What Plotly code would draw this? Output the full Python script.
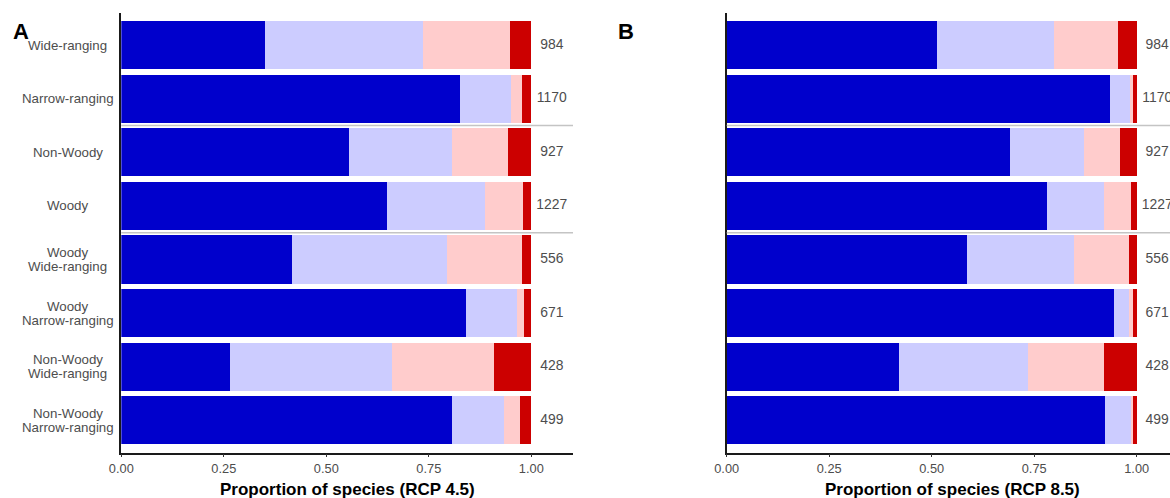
import plotly.graph_objects as go

categories = ["Wide-ranging", "Narrow-ranging", "Non-Woody", "Woody",
              "Woody<br>Wide-ranging", "Woody<br>Narrow-ranging",
              "Non-Woody<br>Wide-ranging", "Non-Woody<br>Narrow-ranging"]
counts = [984, 1170, 927, 1227, 556, 671, 428, 499]

# cumulative boundaries (RCP 4.5)
a_cum1 = [0.351, 0.827, 0.556, 0.649, 0.417, 0.841, 0.266, 0.807]
a_cum2 = [0.737, 0.951, 0.807, 0.888, 0.795, 0.966, 0.661, 0.934]
a_cum3 = [0.949, 0.978, 0.944, 0.980, 0.978, 0.983, 0.910, 0.973]
# RCP 8.5
b_cum1 = [0.514, 0.935, 0.691, 0.781, 0.585, 0.944, 0.420, 0.922]
b_cum2 = [0.798, 0.984, 0.872, 0.920, 0.846, 0.982, 0.736, 0.986]
b_cum3 = [0.954, 0.992, 0.959, 0.987, 0.981, 0.992, 0.921, 0.992]

colors = ["#0000CC", "#CCCCFF", "#FFCCCC", "#CC0000"]
titles = ["Proportion of species (RCP 4.5)", "Proportion of species (RCP 8.5)"]

W, H = 1170, 498
pos = list(range(len(categories)))
FONT = "Liberation Sans, Arial"


def segments(c1, c2, c3):
    s1 = c1
    s2 = [b - a for a, b in zip(c1, c2)]
    s3 = [b - a for a, b in zip(c2, c3)]
    s4 = [1 - b for b in c3]
    return [s1, s2, s3, s4]


fig = go.Figure()
for k, (c1, c2, c3) in enumerate([(a_cum1, a_cum2, a_cum3), (b_cum1, b_cum2, b_cum3)]):
    xa = "x" if k == 0 else "x2"
    ya = "y" if k == 0 else "y2"
    for seg, col in zip(segments(c1, c2, c3), colors):
        fig.add_trace(go.Bar(x=seg, y=pos, orientation="h", width=0.9,
                             marker=dict(color=col, line=dict(width=0)),
                             xaxis=xa, yaxis=ya, showlegend=False, hoverinfo="skip"))
    fig.add_trace(go.Scatter(x=[1.05] * len(pos), y=pos, text=[str(c) for c in counts],
                             mode="text", textposition="middle center",
                             textfont=dict(size=13.9, color="#4D4D4D", family=FONT),
                             xaxis=xa, yaxis=ya, showlegend=False, cliponaxis=False, hoverinfo="skip"))

ydom = [1 - 452.5 / H, 1 - 13 / H]
scale = 410.0
xa0, xa1 = 121.3, 573
xb0, xb1 = 726.7, 1170

axis_common = dict(showgrid=False, zeroline=False, showline=True, linecolor="#1A1A1A",
                   linewidth=1.5, ticks="outside", ticklen=3, tickwidth=1, tickcolor="#333333",
                   tickvals=[0, 0.25, 0.5, 0.75, 1.0],
                   ticktext=["0.00", "0.25", "0.50", "0.75", "1.00"],
                   tickfont=dict(size=12.8, color="#4D4D4D", family=FONT),
                   automargin=False)

fig.update_layout(
    width=W, height=H, margin=dict(l=0, r=0, t=0, b=0, pad=0, autoexpand=False),
    autosize=False,
    plot_bgcolor="white", paper_bgcolor="white", barmode="stack", bargap=0.1,
    showlegend=False,
    xaxis=dict(domain=[xa0 / W, xa1 / W], range=[0, (xa1 - xa0) / scale], anchor="y", **axis_common),
    xaxis2=dict(domain=[xb0 / W, xb1 / W], range=[0, (xb1 - xb0) / scale], anchor="y2", **axis_common),
    yaxis=dict(domain=ydom, range=[7.6, -0.6], showticklabels=False, showgrid=False,
               zeroline=False, showline=True, linecolor="#1A1A1A", linewidth=1.5, ticks="",
               anchor="x", automargin=False),
    yaxis2=dict(domain=ydom, range=[7.6, -0.6], showticklabels=False, showgrid=False,
                zeroline=False, showline=True, linecolor="#1A1A1A", linewidth=1.5, ticks="",
                anchor="x2", automargin=False),
)

shapes = []
for xr, yr in [("x domain", "y"), ("x2 domain", "y2")]:
    for yv in [1.5, 3.5]:
        shapes.append(dict(type="line", xref=xr, yref=yr, x0=0, x1=1, y0=yv, y1=yv,
                           line=dict(color="#C4C4C4", width=1.5)))
fig.update_layout(shapes=shapes)

annotations = []
for i, cat in enumerate(categories):
    lines = cat.split("<br>")
    n = len(lines)
    for j, ln in enumerate(lines):
        shift = (-(j - (n - 1) / 2)) * 14
        annotations.append(dict(x=67.5 / W, xref="paper", y=i, yref="y", text=ln, showarrow=False,
                                xanchor="center", yanchor="middle", align="center", yshift=shift,
                                font=dict(size=13.3, color="#4D4D4D", family=FONT)))
# axis titles
annotations.append(dict(x=(xa0 + xa1) / 2 / W, y=1 - 489 / H, xref="paper", yref="paper",
                        text="<b>" + titles[0] + "</b>", showarrow=False,
                        xanchor="center", yanchor="middle",
                        font=dict(size=17, color="#000000", family=FONT)))
annotations.append(dict(x=(xb0 + xb0 + 452) / 2 / W, y=1 - 489 / H, xref="paper", yref="paper",
                        text="<b>" + titles[1] + "</b>", showarrow=False,
                        xanchor="center", yanchor="middle",
                        font=dict(size=17, color="#000000", family=FONT)))
annotations.append(dict(x=21 / W, y=1 - 31 / H, xref="paper", yref="paper", text="<b>A</b>",
                        showarrow=False, xanchor="center", yanchor="middle",
                        font=dict(size=22, color="#000000", family=FONT)))
annotations.append(dict(x=625.5 / W, y=1 - 31 / H, xref="paper", yref="paper", text="<b>B</b>",
                        showarrow=False, xanchor="center", yanchor="middle",
                        font=dict(size=22, color="#000000", family=FONT)))
fig.update_layout(annotations=annotations)

fig.write_html("out.html", config={"displayModeBar": False},
               post_script="document.body.style.margin='0px';document.body.style.padding='0px';")
